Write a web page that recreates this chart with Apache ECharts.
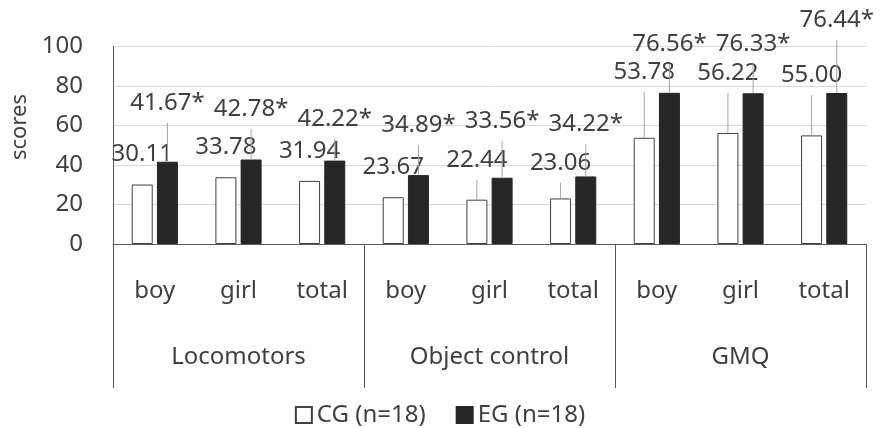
<!DOCTYPE html>
<html>
<head>
<meta charset="utf-8">
<script src="https://cdn.jsdelivr.net/npm/echarts@6/dist/echarts.min.js"></script>
<style>
  html, body { margin: 0; padding: 0; background: #fff; }
  #chart { width: 880px; height: 428px; }
</style>
</head>
<body>
<div id="chart"></div>
<script>
const categories = ["boy", "girl", "total", "boy", "girl", "total", "boy", "girl", "total"];
const groups = ["Locomotors", "Object control", "GMQ"];
const cgScores = [30.11, 33.78, 31.94, 23.67, 22.44, 23.06, 53.78, 56.22, 55.0];
const egScores = [41.67, 42.78, 42.22, 34.89, 33.56, 34.22, 76.56, 76.33, 76.44];
// upper error bars (SD), null where none is drawn
const cgSD = [null, null, null, null, 10.0, 7.9, 23.2, 20.3, 20.4];
const egSD = [19.6, 15.4, 11.0, 15.2, 18.7, 16.3, 14.6, 14.8, 26.9];
const yTicks = { min: 0, max: 100, interval: 20 };

const FONT = "Noto Sans";
const TEXT = "#404040";

const chart = echarts.init(document.getElementById("chart"));

// error bar + value label drawn over each bar
function barExtras(values, sds, shift, suffix) {
  return function (params, api) {
    const i = api.value(0);
    const base = api.coord([i, values[i]]);
    const x = base[0] + shift;
    const children = [];
    let top = base[1];
    if (sds[i] != null) {
      top = api.coord([i, values[i] + sds[i]])[1];
      children.push({
        type: "line",
        shape: { x1: x, y1: base[1], x2: x, y2: top },
        style: { stroke: "#a6a6a6", lineWidth: 1 }
      });
    }
    children.push({
      type: "text",
      x: x,
      y: sds[i] != null ? top - 20 : top - 30,
      style: {
        text: values[i].toFixed(2) + suffix,
        align: "center",
        verticalAlign: "middle",
        fill: TEXT,
        fontSize: 24,
        fontFamily: FONT
      }
    });
    return { type: "group", children: children };
  };
}

chart.setOption({
  animation: false,
  textStyle: { fontFamily: FONT },
  grid: { left: 113, right: 14, top: 46.5, bottom: 184 },
  legend: {
    data: ["CG (n=18)", "EG (n=18)"],
    left: "center",
    top: 398,
    icon: "rect",
    itemWidth: 16,
    itemHeight: 16,
    itemGap: 30,
    textStyle: { fontSize: 24, color: TEXT, fontFamily: FONT }
  },
  graphic: [{
    type: "text",
    x: 20,
    y: 127,
    rotation: Math.PI / 2,
    style: {
      text: "scores",
      align: "center",
      verticalAlign: "middle",
      fill: TEXT,
      fontSize: 22,
      fontFamily: FONT
    }
  }],
  xAxis: [
    {
      type: "category",
      data: categories,
      position: "bottom",
      axisLine: { lineStyle: { color: "#595959" } },
      axisTick: { show: false },
      axisLabel: { interval: 0, margin: 35, fontSize: 24, color: TEXT }
    },
    {
      type: "category",
      data: groups,
      position: "bottom",
      axisLine: { show: false },
      axisTick: { show: true, interval: 0, length: 144, lineStyle: { color: "#595959" } },
      axisLabel: { interval: 0, margin: 101, fontSize: 24, color: TEXT }
    }
  ],
  yAxis: {
    type: "value",
    min: yTicks.min,
    max: yTicks.max,
    interval: yTicks.interval,
    axisLine: { show: true, lineStyle: { color: "#595959" } },
    axisTick: { show: false },
    axisLabel: { margin: 30, fontSize: 24, color: TEXT },
    splitLine: { lineStyle: { color: "#d9d9d9" } }
  },
  series: [
    {
      name: "CG (n=18)",
      type: "bar",
      data: cgScores,
      barWidth: 21,
      barGap: "20%",
      itemStyle: { color: "#ffffff", borderColor: "#404040", borderWidth: 1 }
    },
    {
      name: "EG (n=18)",
      type: "bar",
      data: egScores,
      barWidth: 21,
      itemStyle: { color: "#262626", borderColor: "#262626", borderWidth: 1 }
    },
    {
      name: "cgExtras",
      type: "custom",
      z: 5,
      clip: false,
      data: cgScores.map((v, i) => [i, v]),
      renderItem: barExtras(cgScores, cgSD, -12.6, "")
    },
    {
      name: "egExtras",
      type: "custom",
      z: 5,
      clip: false,
      data: egScores.map((v, i) => [i, v]),
      renderItem: barExtras(egScores, egSD, 12.6, "*")
    }
  ]
});
</script>
</body>
</html>
